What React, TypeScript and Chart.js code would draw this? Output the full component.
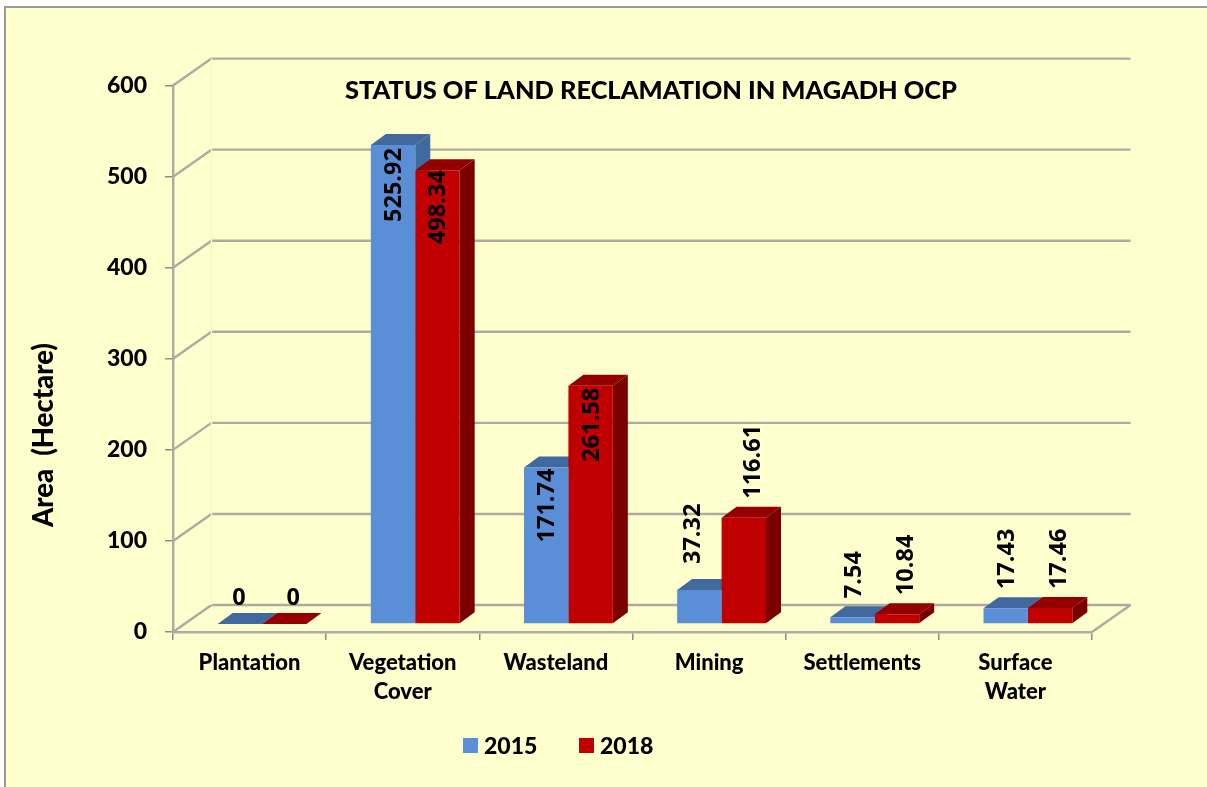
import React, { useEffect, useRef } from "react";
import { Chart, registerables } from "chart.js";

Chart.register(...registerables);

const categories = [
  "Plantation",
  ["Vegetation", "Cover"],
  "Wasteland",
  "Mining",
  "Settlements",
  ["Surface", "Water"],
];
const values2015 = [0, 525.92, 171.74, 37.32, 7.54, 17.43];
const values2018 = [0, 498.34, 261.58, 116.61, 10.84, 17.46];
const series = ["2015", "2018"];
const chartTitle = "STATUS OF LAND RECLAMATION IN MAGADH OCP";
const axisTitle = "Area  (Hectare)";

const FRONT = ["#5A8ED6", "#C00000"];
const TOP = ["#41689F", "#940000"];
const SIDE = ["#3F6A9E", "#7A0000"];
const GRID = "#ABABA3";
const FONT_MAIN = "Lato";
const FONT_LABEL = "'Open Sans'";

// Wall and bar depth of the 3-D look
const WALL = { dx: 38.5, dy: -27 };
const BAR_SHIFT = { dx: 12.5, dy: -8 };
const BAR_DEPTH = { dx: 15, dy: -11 };

// Distance from the bar's top to the value label (inside the bar for tall bars, above it otherwise)
const labelGap = [
  [0, 3, 1, 26, 19, 19],
  [0, 0, 2, 19, 19, 19],
];
const labelDx = [
  [-2, 0, 0, -7.5, 0, 0],
  [8, 0, 0, 8, 8, 8],
];

const depthPlugin = {
  id: "depth3d",
  beforeDatasetsDraw(chart: any) {
    const { ctx, chartArea: a, scales } = chart;
    ctx.save();
    ctx.strokeStyle = GRID;
    ctx.lineWidth = 2.4;
    ctx.lineJoin = "round";
    for (const tick of scales.y.ticks) {
      const y = scales.y.getPixelForValue(tick.value);
      ctx.beginPath();
      ctx.moveTo(a.left, y);
      ctx.lineTo(a.left + WALL.dx, y + WALL.dy);
      ctx.lineTo(a.right + WALL.dx, y + WALL.dy);
      ctx.stroke();
    }
    // right floor edge
    ctx.beginPath();
    ctx.moveTo(a.right, a.bottom);
    ctx.lineTo(a.right + WALL.dx, a.bottom + WALL.dy);
    ctx.stroke();
    // faint back corner
    ctx.strokeStyle = "#F6F6C8";
    ctx.lineWidth = 1.5;
    ctx.beginPath();
    ctx.moveTo(a.left + WALL.dx, a.top + WALL.dy);
    ctx.lineTo(a.left + WALL.dx, a.bottom + WALL.dy);
    ctx.stroke();
    ctx.restore();

    // Shifted bars stand on the floor, in front faces drawn by the library
    ctx.save();
    ctx.translate(BAR_SHIFT.dx, BAR_SHIFT.dy);
    const n = chart.data.labels.length;
    for (let i = 0; i < n; i++) {
      for (let d = 0; d < chart.data.datasets.length; d++) {
        const el = chart.getDatasetMeta(d).data[i];
        const l = el.x - el.width / 2;
        const r = el.x + el.width / 2;
        const t = el.y;
        const b = el.base;
        ctx.fillStyle = SIDE[d];
        ctx.beginPath();
        ctx.moveTo(r, t);
        ctx.lineTo(r + BAR_DEPTH.dx, t + BAR_DEPTH.dy);
        ctx.lineTo(r + BAR_DEPTH.dx, b + BAR_DEPTH.dy);
        ctx.lineTo(r, b);
        ctx.closePath();
        ctx.fill();
        ctx.fillStyle = TOP[d];
        ctx.beginPath();
        ctx.moveTo(l, t);
        ctx.lineTo(l + BAR_DEPTH.dx, t + BAR_DEPTH.dy);
        ctx.lineTo(r + BAR_DEPTH.dx, t + BAR_DEPTH.dy);
        ctx.lineTo(r, t);
        ctx.closePath();
        ctx.fill();
      }
    }
  },
  afterDatasetsDraw(chart: any) {
    const { ctx } = chart;
    ctx.restore();

    // value labels
    ctx.save();
    ctx.fillStyle = "#000";
    ctx.font = `bold 23.5px ${FONT_LABEL}`;
    chart.data.datasets.forEach((ds: any, d: number) => {
      const meta = chart.getDatasetMeta(d);
      ds.data.forEach((v: number, i: number) => {
        const el = meta.data[i];
        const x = el.x + BAR_SHIFT.dx + labelDx[d][i];
        const top = el.y + BAR_SHIFT.dy;
        ctx.save();
        if (v === 0) {
          ctx.textAlign = "center";
          ctx.textBaseline = "alphabetic";
          ctx.fillText(String(v), x + 1, 605);
        } else {
          const inside = v > 150;
          ctx.translate(x + 8, inside ? top + labelGap[d][i] : top - labelGap[d][i]);
          ctx.rotate(-Math.PI / 2);
          ctx.textAlign = inside ? "right" : "left";
          ctx.textBaseline = "alphabetic";
          ctx.fillText(v.toFixed(2), 0, 0);
        }
        ctx.restore();
      });
    });
    ctx.restore();

    // axis title
    ctx.save();
    ctx.fillStyle = "#000";
    ctx.font = `900 27.5px ${FONT_MAIN}`;
    ctx.textAlign = "center";
    ctx.textBaseline = "middle";
    ctx.translate(44, 435);
    ctx.rotate(-Math.PI / 2);
    ctx.fillText(axisTitle, 0, 0);
    ctx.restore();

    // legend
    ctx.save();
    ctx.font = `900 23px ${FONT_MAIN}`;
    ctx.textBaseline = "middle";
    const lx = [463, 579];
    chart.data.datasets.forEach((ds: any, d: number) => {
      ctx.fillStyle = FRONT[d];
      ctx.fillRect(lx[d], 738, 15, 15);
      ctx.fillStyle = "#000";
      ctx.fillText(ds.label, lx[d] + 21, 747);
    });
    ctx.restore();
  },
  afterLayout(chart: any) {
    const t = chart.titleBlock;
    t.left = 345;
    t.right = 957;
    t.top = 75;
  },
};

export default function App() {
  const ref = useRef<HTMLCanvasElement>(null);
  useEffect(() => {
    const chart = new Chart(ref.current as HTMLCanvasElement, {
      type: "bar",
      data: {
        labels: categories as any,
        datasets: [
          { label: series[0], data: values2015, backgroundColor: FRONT[0], clip: false } as any,
          { label: series[1], data: values2018, backgroundColor: FRONT[1], clip: false } as any,
        ],
      },
      options: {
        animation: false,
        responsive: false,
        devicePixelRatio: 1,
        layout: { padding: { left: 24, right: 115, top: 55, bottom: 0 } },
        datasets: { bar: { categoryPercentage: 0.58, barPercentage: 1 } },
        plugins: {
          legend: { display: false },
          tooltip: { enabled: false },
          title: {
            display: true,
            text: chartTitle,
            color: "#000",
            font: { family: FONT_MAIN, size: 25.5, weight: "900", lineHeight: 1.2 },
            padding: 0,
          },
        },
        scales: {
          x: {
            afterFit: (s: any) => {
              s.height = 155;
            },
            grid: { drawOnChartArea: false, drawTicks: true, tickLength: 8, color: "#8C8C8C", lineWidth: 1.5 },
            border: { color: GRID, width: 2.4 },
            ticks: {
              autoSkip: false,
              maxRotation: 0,
              minRotation: 0,
              padding: 9,
              color: "#000",
              font: { family: FONT_MAIN, size: 22, weight: "900", lineHeight: 1.3 },
            },
          },
          y: {
            min: 0,
            max: 600,
            afterFit: (s: any) => {
              s.width = 149;
            },
            grid: { drawOnChartArea: false, drawTicks: true, tickLength: 8, color: "#8C8C8C", lineWidth: 1.5 },
            border: { color: GRID, width: 2.4 },
            ticks: {
              stepSize: 100,
              padding: 18,
              color: "#000",
              font: { family: FONT_MAIN, size: 23, weight: "900" },
            },
          },
        },
      },
      plugins: [depthPlugin],
    } as any);
    return () => chart.destroy();
  }, []);
  return (
    <div style={{ position: "absolute", left: 0, top: 0, width: 1207, height: 787, overflow: "hidden", background: "#fff" }}>
      <div
        style={{
          position: "absolute",
          left: 4,
          top: 6,
          width: 1240,
          height: 820,
          background: "#FFFFCD",
          border: "2px solid #9A9A9A",
        }}
      />
      <canvas
        ref={ref}
        width={1207}
        height={787}
        style={{ position: "absolute", left: 0, top: 0, display: "block", filter: "blur(0.4px)" }}
      />
    </div>
  );
}
